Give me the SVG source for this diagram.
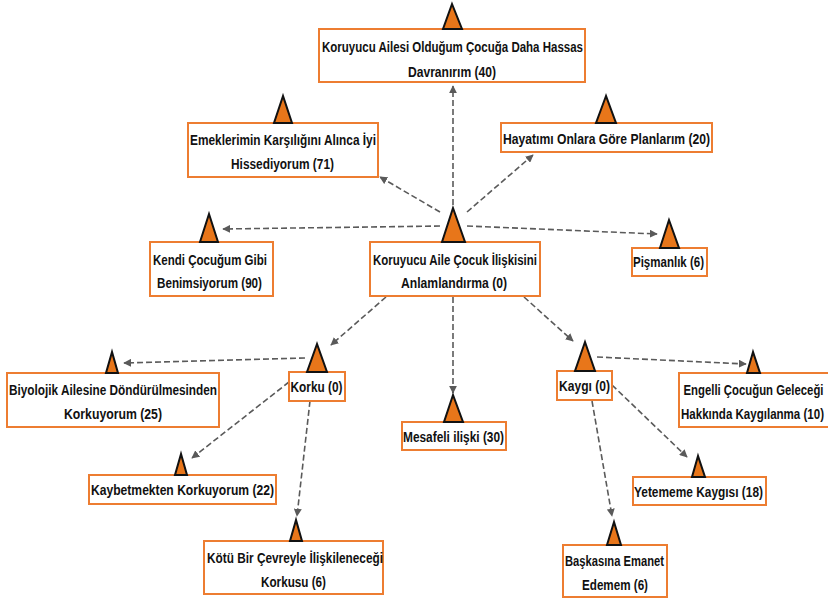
<svg xmlns="http://www.w3.org/2000/svg" width="828" height="600" viewBox="0 0 828 600">
<style>
.box{fill:#fff;stroke:#ED7D31;stroke-width:2}
.tri{fill:#E8761A;stroke:#111;stroke-width:2;stroke-linejoin:miter}
text{font-family:"Liberation Sans","Arial",sans-serif;font-weight:bold;font-size:14.5px;fill:#111;text-anchor:middle}
.c{fill:none;stroke:#5a5a5a;stroke-width:1.6;stroke-dasharray:6 3;marker-end:url(#ah)}
</style>
<defs>
<marker id="ah" viewBox="0 0 10 10" refX="9" refY="5" markerWidth="5" markerHeight="5" orient="auto" markerUnits="strokeWidth">
<path d="M0,0 L10,5 L0,10 z" fill="#5a5a5a"/>
</marker>
</defs>
<g id="connectors">
<line class="c" x1="453" y1="205" x2="453" y2="86"/>
<line class="c" x1="440" y1="212" x2="380" y2="177"/>
<line class="c" x1="467" y1="212" x2="533" y2="155"/>
<line class="c" x1="440" y1="226" x2="223" y2="229"/>
<line class="c" x1="467" y1="226" x2="657" y2="234"/>
<line class="c" x1="386" y1="297" x2="331" y2="345"/>
<line class="c" x1="453" y1="297" x2="453" y2="393"/>
<line class="c" x1="524" y1="297" x2="573" y2="341"/>
<line class="c" x1="305" y1="358" x2="124" y2="363"/>
<line class="c" x1="289" y1="382" x2="192" y2="458"/>
<line class="c" x1="310" y1="401" x2="297" y2="516"/>
<line class="c" x1="597" y1="357" x2="746" y2="364"/>
<line class="c" x1="612" y1="385" x2="687" y2="457"/>
<line class="c" x1="592" y1="401" x2="612" y2="516"/>
</g>
<g id="n_top">
<rect class="box" x="319" y="29" width="266" height="53"/>
<polygon class="tri" points="452,4 443,29 462,29"/>
<text x="452.5" y="52" textLength="261" lengthAdjust="spacingAndGlyphs">Koruyucu Ailesi Olduğum Çocuğa Daha Hassas</text>
<text x="452" y="77" textLength="88" lengthAdjust="spacingAndGlyphs">Davranırım (40)</text>
</g>
<g id="n_emek">
<rect class="box" x="188" y="123" width="190" height="54"/>
<polygon class="tri" points="283,96 274,123 292,123"/>
<text x="283" y="145" textLength="186" lengthAdjust="spacingAndGlyphs">Emeklerimin Karşılığını Alınca İyi</text>
<text x="282.5" y="169" textLength="103" lengthAdjust="spacingAndGlyphs">Hissediyorum (71)</text>
</g>
<g id="n_hayat">
<rect class="box" x="501" y="123" width="211" height="29"/>
<polygon class="tri" points="606,96 596,123 616,123"/>
<text x="606.5" y="144" textLength="207" lengthAdjust="spacingAndGlyphs">Hayatımı Onlara Göre Planlarım (20)</text>
</g>
<g id="n_kendi">
<rect class="box" x="150" y="242" width="123" height="54"/>
<polygon class="tri" points="209,214 200,242 218,242"/>
<text x="210" y="265" textLength="114" lengthAdjust="spacingAndGlyphs">Kendi Çocuğum Gibi</text>
<text x="209.5" y="288" textLength="105" lengthAdjust="spacingAndGlyphs">Benimsiyorum (90)</text>
</g>
<g id="n_center">
<rect class="box" x="370" y="242" width="170" height="54"/>
<polygon class="tri" points="453,208 442,242 465,242"/>
<text x="455" y="265" textLength="164" lengthAdjust="spacingAndGlyphs">Koruyucu Aile Çocuk İlişkisini</text>
<text x="454" y="288" textLength="106" lengthAdjust="spacingAndGlyphs">Anlamlandırma (0)</text>
</g>
<g id="n_pisman">
<rect class="box" x="632" y="248" width="75" height="28"/>
<polygon class="tri" points="669,220 660,248 679,248"/>
<text x="668.5" y="267" textLength="71" lengthAdjust="spacingAndGlyphs">Pişmanlık (6)</text>
</g>
<g id="n_biyo">
<rect class="box" x="7" y="373" width="212" height="54"/>
<polygon class="tri" points="112,352 106,373 118,373"/>
<text x="113" y="395" textLength="208" lengthAdjust="spacingAndGlyphs">Biyolojik Ailesine Döndürülmesinden</text>
<text x="113" y="419" textLength="98" lengthAdjust="spacingAndGlyphs">Korkuyorum (25)</text>
</g>
<g id="n_korku">
<rect class="box" x="289" y="372" width="56" height="29"/>
<polygon class="tri" points="317,344 307,372 327,372"/>
<text x="316.5" y="392" textLength="52" lengthAdjust="spacingAndGlyphs">Korku (0)</text>
</g>
<g id="n_kaygi">
<rect class="box" x="557" y="371" width="55" height="29"/>
<polygon class="tri" points="585,342 575,371 595,371"/>
<text x="584.5" y="391" textLength="51" lengthAdjust="spacingAndGlyphs">Kaygı (0)</text>
</g>
<g id="n_engelli">
<rect class="box" x="679" y="373" width="153" height="54"/>
<polygon class="tri" points="753,352 747,373 760,373"/>
<text x="753.5" y="395" textLength="140" lengthAdjust="spacingAndGlyphs">Engelli Çocuğun Geleceği</text>
<text x="752.5" y="419" textLength="143" lengthAdjust="spacingAndGlyphs">Hakkında Kaygılanma (10)</text>
</g>
<g id="n_kaybet">
<rect class="box" x="89" y="475" width="187" height="29"/>
<polygon class="tri" points="181,454 175,475 187,475"/>
<text x="182.5" y="495" textLength="183" lengthAdjust="spacingAndGlyphs">Kaybetmekten Korkuyorum (22)</text>
</g>
<g id="n_mesafe">
<rect class="box" x="402" y="422" width="104" height="28"/>
<polygon class="tri" points="453,395 444,422 463,422"/>
<text x="453.5" y="442" textLength="101" lengthAdjust="spacingAndGlyphs">Mesafeli ilişki (30)</text>
</g>
<g id="n_kotu">
<rect class="box" x="204" y="541" width="179" height="53"/>
<polygon class="tri" points="296,520 290,541 302,541"/>
<text x="295" y="563" textLength="176" lengthAdjust="spacingAndGlyphs">Kötü Bir Çevreyle İlişkileneceği</text>
<text x="293.5" y="587" textLength="65" lengthAdjust="spacingAndGlyphs">Korkusu (6)</text>
</g>
<g id="n_yetem">
<rect class="box" x="633" y="477" width="133" height="28"/>
<polygon class="tri" points="698,456 692,477 705,477"/>
<text x="698.5" y="497" textLength="129" lengthAdjust="spacingAndGlyphs">Yetememe Kaygısı (18)</text>
</g>
<g id="n_baska">
<rect class="box" x="563" y="545" width="104" height="52"/>
<polygon class="tri" points="614,522 607,545 621,545"/>
<text x="614.5" y="566" textLength="99" lengthAdjust="spacingAndGlyphs">Başkasına Emanet</text>
<text x="615" y="590" textLength="66" lengthAdjust="spacingAndGlyphs">Edemem (6)</text>
</g>
</svg>
